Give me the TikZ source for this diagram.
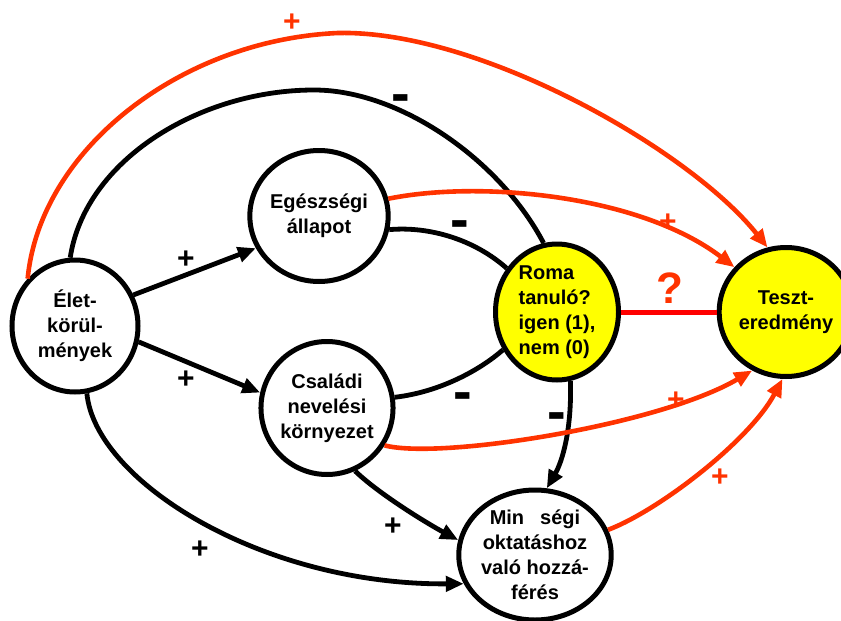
\documentclass[tikz,border=0pt]{standalone}
\usepackage{fontspec}
\setmainfont{Liberation Sans}
\usetikzlibrary{arrows.meta,shapes.geometric}
\definecolor{redor}{HTML}{FF3300}
\definecolor{pured}{HTML}{FF0000}
\definecolor{roma}{HTML}{FFFF00}
\begin{document}
\begin{tikzpicture}[x=1pt,y=-1pt,
  bub/.style={ellipse,draw=black,line width=5pt,fill=white,inner sep=0pt,
    font=\fontsize{20}{25}\selectfont\bfseries,align=center},
  ybub/.style={bub,fill=roma},
  blk/.style={draw=black,line width=4.8pt},
  rd/.style={draw=redor,line width=4.6pt},
  arr/.style={-{Triangle[length=18pt,width=15pt]}},
  plab/.style={font=\fontsize{30}{30}\selectfont\bfseries,inner sep=0pt},
  mlab/.style={font=\fontsize{56}{56}\selectfont\bfseries,inner sep=0pt},
]
\useasboundingbox (0,0) rectangle (841,621);
\clip (0,0) rectangle (841,621);

% nodes
\node[bub,minimum width=126pt,minimum height=132pt] (elet) at (75,326) {Élet-\\körül-\\mények};
\node[bub,minimum width=124pt,minimum height=131pt] (egesz) at (319,216) {Egészségi\\állapot};
\node[bub,minimum width=126pt,minimum height=133pt] (csal) at (327,408) {Családi\\nevelési\\környezet};
\node[ybub,minimum width=123pt,minimum height=136pt,align=left] (roma) at (557,312) {Roma\\tanuló?\\igen (1),\\nem (0)};
\node[ybub,minimum width=124pt,minimum height=129pt] (teszt) at (786,312) {Teszt-\\eredmény};
\node[bub,minimum width=126pt,minimum height=130pt] (min) at (535,555) {Min\hspace{0.8em}ségi\\oktatáshoz\\való hozzá-\\férés};

% black connectors
\draw[blk,arr] (elet.28) -- (egesz.207);
\draw[blk,arr] (elet.-14) -- (csal.167);
\draw[blk] (elet.94) .. controls (85,160) and (200,90) .. (314,90)
  .. controls (400,90) and (500,160) .. (roma.101);
\draw[blk] (egesz.-11) .. controls (430,226) and (475,240) .. (roma.139);
\draw[blk] (csal.9) .. controls (440,392) and (480,370) .. (roma.215);
\draw[blk,arr] (roma.-79) .. controls (572,430) and (562,462) .. (min.80);
\draw[blk,arr] (csal.-66) .. controls (380,495) and (430,525) .. (min.169);
\draw[blk,arr] (elet.-80) .. controls (95,480) and (260,585) .. (min.202);

% red connectors
\draw[rd,arr] (elet.135) .. controls (40,150) and (180,40) .. (338,33)
  .. controls (480,30) and (690,150) .. (teszt.106);
\draw[rd,arr] (egesz.14) .. controls (480,180) and (640,195) .. (teszt.139);
\draw[rd,arr] (csal.-33) .. controls (440,460) and (660,425) .. (teszt.240);
\draw[rd,arr] (min.19) .. controls (660,510) and (750,440) .. (teszt.267);
\draw[draw=pured,line width=5pt] (roma.0) -- (teszt.180);

% labels
\node[plab] (p1) at (186,260) {+};
\node[plab] (p2) at (186,380) {+};
\node[plab] (p3) at (393,527) {+};
\node[plab] (p4) at (200,550) {+};
\node[mlab] (m1) at (401,104) {-};
\node[mlab] (m2) at (460,230) {-};
\node[mlab] (m3) at (463,402) {-};
\node[mlab] (m4) at (557,422) {-};
\node[plab,text=redor] (r1) at (292,23) {+};
\node[plab,text=redor] (r2) at (668,223) {+};
\node[plab,text=redor] (r3) at (676,401) {+};
\node[plab,text=redor] (r4) at (720,478) {+};
\node[font=\fontsize{44}{44}\selectfont\bfseries,text=redor,inner sep=0pt] (q) at (670,288) {?};
\end{tikzpicture}
\end{document}
